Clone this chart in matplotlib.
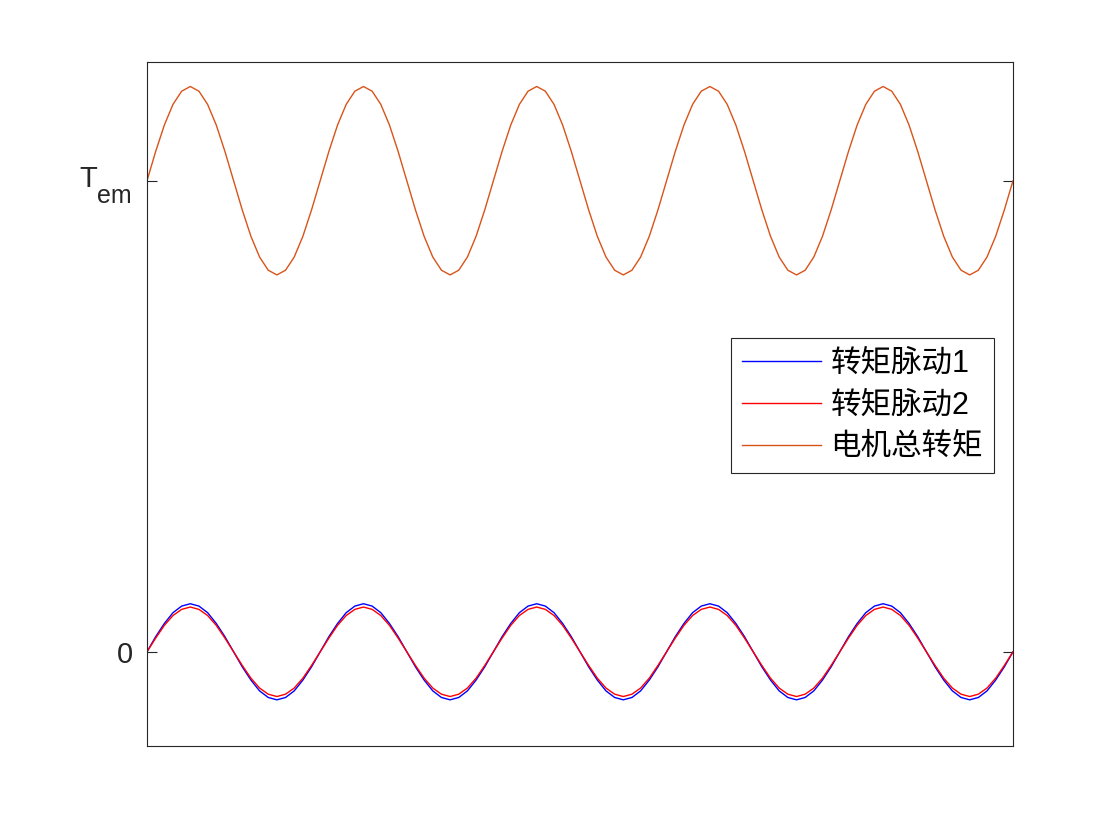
import numpy as np
import matplotlib
matplotlib.use('Agg')
import matplotlib.pyplot as plt

plt.rcParams['font.family'] = ['Liberation Sans', 'Noto Sans CJK SC', 'DejaVu Sans']

# torque ripple 1 (blue), one value per sample, 5 periods
ripple1 = [
    0.000, 0.032, 0.060, 0.083, 0.097, 0.102, 0.097, 0.083, 0.060, 0.032,
    0.000, -0.032, -0.060, -0.083, -0.097, -0.102, -0.097, -0.083, -0.060, -0.032,
    0.000, 0.032, 0.060, 0.083, 0.097, 0.102, 0.097, 0.083, 0.060, 0.032,
    0.000, -0.032, -0.060, -0.083, -0.097, -0.102, -0.097, -0.083, -0.060, -0.032,
    0.000, 0.032, 0.060, 0.083, 0.097, 0.102, 0.097, 0.083, 0.060, 0.032,
    0.000, -0.032, -0.060, -0.083, -0.097, -0.102, -0.097, -0.083, -0.060, -0.032,
    0.000, 0.032, 0.060, 0.083, 0.097, 0.102, 0.097, 0.083, 0.060, 0.032,
    0.000, -0.032, -0.060, -0.083, -0.097, -0.102, -0.097, -0.083, -0.060, -0.032,
    0.000, 0.032, 0.060, 0.083, 0.097, 0.102, 0.097, 0.083, 0.060, 0.032,
    0.000, -0.032, -0.060, -0.083, -0.097, -0.102, -0.097, -0.083, -0.060, -0.032,
    0.000,
]

# torque ripple 2 (red)
ripple2 = [
    0.000, 0.029, 0.056, 0.077, 0.090, 0.095, 0.090, 0.077, 0.056, 0.029,
    0.000, -0.029, -0.056, -0.077, -0.090, -0.095, -0.090, -0.077, -0.056, -0.029,
    0.000, 0.029, 0.056, 0.077, 0.090, 0.095, 0.090, 0.077, 0.056, 0.029,
    0.000, -0.029, -0.056, -0.077, -0.090, -0.095, -0.090, -0.077, -0.056, -0.029,
    0.000, 0.029, 0.056, 0.077, 0.090, 0.095, 0.090, 0.077, 0.056, 0.029,
    0.000, -0.029, -0.056, -0.077, -0.090, -0.095, -0.090, -0.077, -0.056, -0.029,
    0.000, 0.029, 0.056, 0.077, 0.090, 0.095, 0.090, 0.077, 0.056, 0.029,
    0.000, -0.029, -0.056, -0.077, -0.090, -0.095, -0.090, -0.077, -0.056, -0.029,
    0.000, 0.029, 0.056, 0.077, 0.090, 0.095, 0.090, 0.077, 0.056, 0.029,
    0.000, -0.029, -0.056, -0.077, -0.090, -0.095, -0.090, -0.077, -0.056, -0.029,
    0.000,
]

# total motor torque (orange), around Tem = 1
total = [
    1.000, 1.062, 1.118, 1.162, 1.190, 1.200, 1.190, 1.162, 1.118, 1.062,
    1.000, 0.938, 0.882, 0.838, 0.810, 0.800, 0.810, 0.838, 0.882, 0.938,
    1.000, 1.062, 1.118, 1.162, 1.190, 1.200, 1.190, 1.162, 1.118, 1.062,
    1.000, 0.938, 0.882, 0.838, 0.810, 0.800, 0.810, 0.838, 0.882, 0.938,
    1.000, 1.062, 1.118, 1.162, 1.190, 1.200, 1.190, 1.162, 1.118, 1.062,
    1.000, 0.938, 0.882, 0.838, 0.810, 0.800, 0.810, 0.838, 0.882, 0.938,
    1.000, 1.062, 1.118, 1.162, 1.190, 1.200, 1.190, 1.162, 1.118, 1.062,
    1.000, 0.938, 0.882, 0.838, 0.810, 0.800, 0.810, 0.838, 0.882, 0.938,
    1.000, 1.062, 1.118, 1.162, 1.190, 1.200, 1.190, 1.162, 1.118, 1.062,
    1.000, 0.938, 0.882, 0.838, 0.810, 0.800, 0.810, 0.838, 0.882, 0.938,
    1.000,
]

labels = ['转矩脉动1', '转矩脉动2', '电机总转矩']
ytick_vals = [0, 1]
ytick_labels = ['0', '']   # Tem label drawn by hand below (big subscript)

x = np.arange(len(total))
axcol = '#262626'

fig = plt.figure(figsize=(11.2, 8.4), dpi=100)
ax = fig.add_axes([147 / 1120, 1 - 746 / 840, (1013 - 147) / 1120, (746 - 62) / 840])

ax.plot(x, ripple1, color='#0000ff', lw=1.0, label=labels[0])
ax.plot(x, ripple2, color='#ff0000', lw=1.0, label=labels[1])
ax.plot(x, total, color='#d95319', lw=1.0, label=labels[2])

ax.set_xlim(0, len(total) - 1)
ax.set_ylim(-0.2, 1.252)
ax.set_xticks([])
ax.set_yticks(ytick_vals)
ax.set_yticklabels(ytick_labels)
ax.tick_params(axis='y', direction='in', length=7, width=0.8, right=True,
               labelsize=21, colors=axcol, pad=10)
for s in ax.spines.values():
    s.set_color(axcol)
    s.set_linewidth(0.8)

# T with subscript em, MATLAB style
ytr = ax.get_yaxis_transform()
ax.annotate('T', xy=(0, ytick_vals[1]), xycoords=ytr, xytext=(-50, -6),
            textcoords='offset pixels', ha='right', va='baseline',
            fontsize=21, color=axcol, annotation_clip=False)
ax.annotate('em', xy=(0, ytick_vals[1]), xycoords=ytr, xytext=(-15, -22),
            textcoords='offset pixels', ha='right', va='baseline',
            fontsize=18, color=axcol, annotation_clip=False)

leg = ax.legend(loc='upper left', bbox_to_anchor=(731 / 1120, 1 - 338 / 840),
                bbox_transform=fig.transFigure, borderaxespad=0, fancybox=False,
                framealpha=1, edgecolor=axcol, fontsize=22, handlelength=2.6,
                handletextpad=0.3, labelspacing=0.38, borderpad=0.36)
leg.get_frame().set_linewidth(0.8)

fig.savefig('out.png', dpi=100)
